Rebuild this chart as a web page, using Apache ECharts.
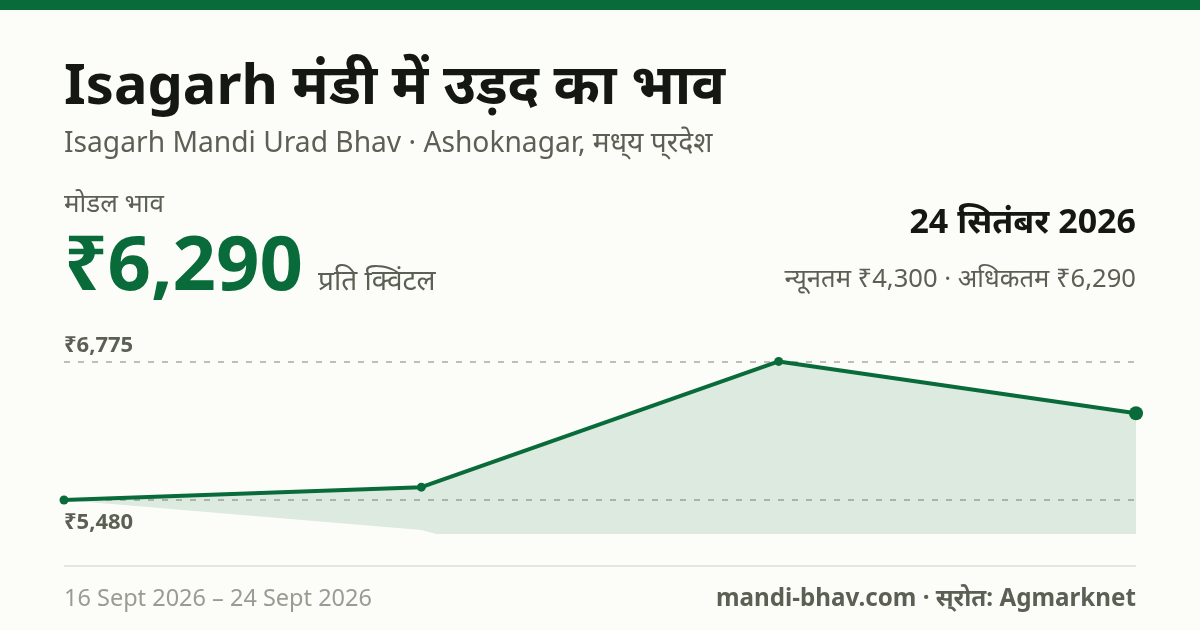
<!doctype html>
<html>
	<head>
		<meta charset="UTF-8">
		<title>Isagarh मंडी में उड़द का भाव</title>
		<style>
			html, body { margin: 0; padding: 0; background: #fcfdf9; }
			#chart { width: 1200px; height: 630px; }
		</style>
	</head>
	<body>
		<div id="chart"></div>
		<script src="https://cdn.jsdelivr.net/npm/echarts@6/dist/echarts.min.js"></script>
		<script type="text/javascript">
			// values
			var dates = ['16 Sept 2026', '', '', '24 Sept 2026'];
			var modalPrices = [5480, 5600, 6775, 6290];
			var minPrices = [5480, 5200, 4300, 4300];
			var guideValues = [6775, 5480];
			var guideLabels = ['₹6,775', '₹5,480'];
			var pointSizes = [9, 9, 9, 14];

			var green = '#0a6b3a';
			var ink = '#141712';
			var muted = '#5c5f54';
			var faint = '#9a9c93';
			var font = '"Noto Sans", sans-serif';

			var bandPrices = modalPrices.map(function (v, i) {
				return v - minPrices[i];
			});

			function label(x, y, text, size, weight, color, align) {
				return {
					type: 'text',
					x: x,
					y: y,
					silent: true,
					style: {
						text: text,
						fontFamily: font,
						fontSize: size,
						fontWeight: weight,
						fill: color,
						align: align || 'left',
						verticalAlign: 'middle'
					}
				};
			}

			var myChart = echarts.init(document.getElementById('chart'), null, { renderer: 'canvas' });
			myChart.setOption({
				animation: false,
				backgroundColor: '#fcfdf9',
				grid: { left: 64, right: 64, top: 340, bottom: 96 },
				xAxis: {
					type: 'category',
					boundaryGap: false,
					data: dates,
					show: false
				},
				yAxis: {
					type: 'value',
					min: 5162,
					max: 6975,
					show: false,
					splitLine: { show: false }
				},
				graphic: [
					{
						type: 'rect',
						silent: true,
						shape: { x: 0, y: 0, width: 1200, height: 10 },
						style: { fill: green }
					},
					{
						type: 'rect',
						silent: true,
						shape: { x: 64, y: 565, width: 1072, height: 2 },
						style: { fill: '#e5e6df' }
					},
					label(64, 88, 'Isagarh मंडी में उड़द का भाव', 56, 700, ink),
					label(64, 144, 'Isagarh Mandi Urad Bhav · Ashoknagar, मध्\u200Cय प्\u200Cरदेश', 28.2, 400, muted),
					label(64, 205, 'मोडल भाव', 26, 400, muted),
					label(64, 268, '₹6,290', 76, 700, green),
					label(318, 282, 'प्रति क्विंटल', 28, 400, muted),
					label(1136, 223, '24 सितंबर 2026', 34, 700, ink, 'right'),
					label(1136, 280, 'न्यूनतम ₹4,300 · अधिकतम ₹6,290', 25.6, 400, muted, 'right'),
					label(64, 599, '16 Sept 2026 – 24 Sept 2026', 23.5, 400, faint),
					label(1136, 599, 'mandi-bhav.com · स्\u200Cरोत: Agmarknet', 24.2, 700, muted, 'right')
				],
				series: [
					{
						type: 'line',
						stack: 'range',
						data: minPrices,
						showSymbol: false,
						lineStyle: { width: 0 },
						silent: true
					},
					{
						type: 'line',
						stack: 'range',
						data: bandPrices,
						showSymbol: false,
						lineStyle: { width: 0 },
						areaStyle: { color: green, opacity: 0.13 },
						silent: true
					},
					{
						type: 'line',
						data: modalPrices,
						symbol: 'circle',
						symbolSize: function (v, p) {
							return pointSizes[p.dataIndex];
						},
						showAllSymbol: true,
						clip: false,
						lineStyle: { color: green, width: 4 },
						itemStyle: { color: green },
						markLine: {
							silent: true,
							symbol: 'none',
							z: 1,
							lineStyle: { color: '#aaaba1', type: [6, 8], width: 1.5 },
							data: [
								{
									yAxis: guideValues[0],
									label: {
										formatter: guideLabels[0],
										position: 'insideStartTop',
										distance: [0, 5],
										fontFamily: font,
										fontSize: 22,
										fontWeight: 700,
										color: muted
									}
								},
								{
									yAxis: guideValues[1],
									label: {
										formatter: guideLabels[1],
										position: 'insideStartBottom',
										distance: [0, 12],
										fontFamily: font,
										fontSize: 22,
										fontWeight: 700,
										color: muted
									}
								}
							]
						}
					}
				]
			});
		</script>
	</body>
</html>
